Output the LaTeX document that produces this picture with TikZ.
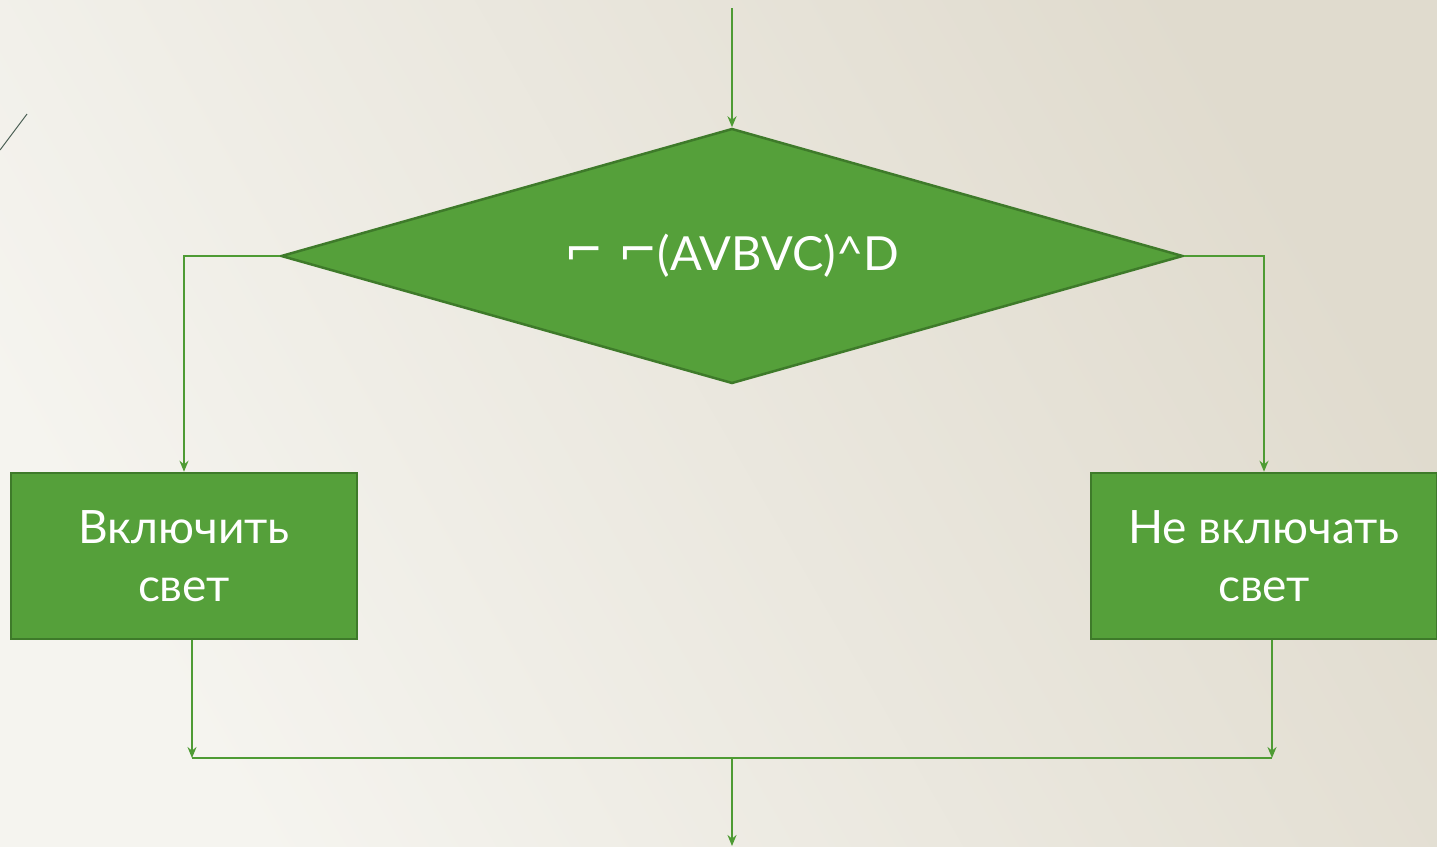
\documentclass[tikz,border=0pt]{standalone}
\usepackage{fontspec}
\setmainfont{Lato}
\newfontfamily\symfont{DejaVu Sans}
\usetikzlibrary{shapes.geometric,arrows.meta,calc}
\definecolor{bgA}{HTML}{F5F4EF}
\definecolor{bgB}{HTML}{E0DBCE}
\definecolor{gfill}{HTML}{55A03A}
\definecolor{gborder}{HTML}{3E7A2A}
\definecolor{gline}{HTML}{4E9B34}
\definecolor{slash}{HTML}{4F6358}
\tikzset{
  conn/.style={draw=gline, line width=2pt},
  arr/.style={conn, -{Stealth[length=11pt,width=9pt]}},
  decision/.style={diamond, aspect=3.537, draw=gborder, line width=2.5pt, fill=gfill, inner sep=0pt,
    minimum width=902pt, minimum height=255pt, text=white, font=\fontsize{47}{55}\selectfont},
  actbox/.style={rectangle, draw=gborder, line width=2.5pt, fill=gfill, inner sep=0pt,
    minimum width=346pt, minimum height=166pt, text=white, align=center,
    font=\fontsize{46}{58}\selectfont}
}
\begin{document}
\begin{tikzpicture}[x=1pt,y=-1pt]
\useasboundingbox (0,0) rectangle (1437,846);
\shade[left color=bgA, right color=bgB, shading angle=120] (0,0) rectangle (1437,846);
\draw[slash, line width=1pt] (0,150) -- (27,114);
\node[decision] (D) at (732,256) {{\symfont\raisebox{4pt}{⌐}\hspace{0.3em}\raisebox{4pt}{⌐}}(AVBVC)\^{}D};
\node[actbox] (L) at (184,556) {Включить\\свет};
\node[actbox] (R) at (1264,556) {Не включать\\свет};
\coordinate (start) at (732,8);
\coordinate (jl) at (192,758);
\coordinate (jr) at (1272,758);
\coordinate (jm) at (732,758);
\coordinate (end) at (732,846);
\draw[arr] (start) -- (D.north);
\draw[arr] (D.west) -| (L.north);
\draw[arr] (D.east) -| (R.north);
\draw[arr] ([xshift=8pt]L.south) -- (jl);
\draw[arr] ([xshift=8pt]R.south) -- (jr);
\draw[conn] (jl) -- (jr);
\draw[arr] (jm) -- (end);
\end{tikzpicture}
\end{document}
